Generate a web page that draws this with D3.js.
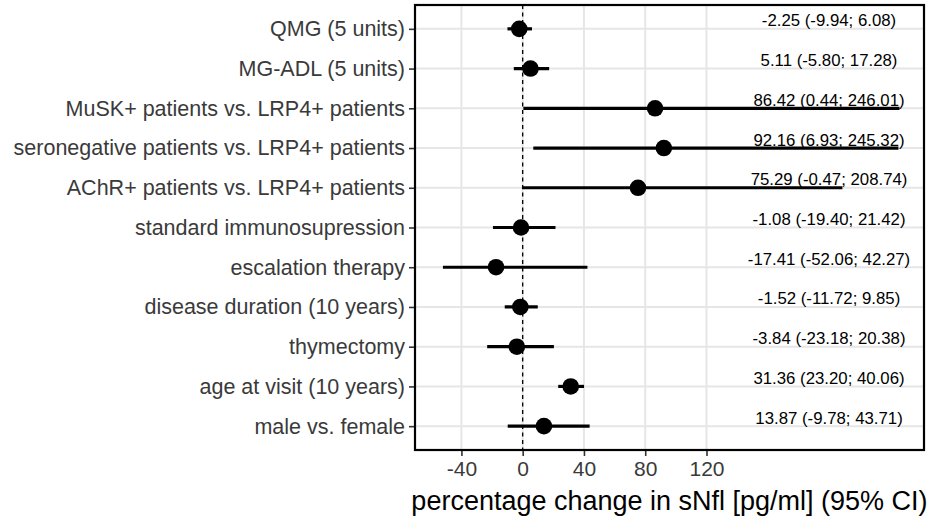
<!DOCTYPE html>
<html>
<head>
<meta charset="utf-8">
<script src="https://cdn.jsdelivr.net/npm/d3@7"></script>
<style>
  html, body { margin: 0; padding: 0; background: #fff; }
  svg { display: block; font-family: "Liberation Sans", Arial, sans-serif; }
</style>
</head>
<body>
<svg id="chart" width="935" height="522"></svg>
<script>
const labels = [
  "QMG (5 units)",
  "MG-ADL (5 units)",
  "MuSK+ patients vs. LRP4+ patients",
  "seronegative patients vs. LRP4+ patients",
  "AChR+ patients vs. LRP4+ patients",
  "standard immunosupression",
  "escalation therapy",
  "disease duration (10 years)",
  "thymectomy",
  "age at visit (10 years)",
  "male vs. female"
];
const estimate = [-2.25, 5.11, 86.42, 92.16, 75.29, -1.08, -17.41, -1.52, -3.84, 31.36, 13.87];
const lower    = [-9.94, -5.80, 0.44, 6.93, -0.47, -19.40, -52.06, -11.72, -23.18, 23.20, -9.78];
const upper    = [6.08, 17.28, 246.01, 245.32, 208.74, 21.42, 42.27, 9.85, 20.38, 40.06, 43.71];
const xTicks = [-40, 0, 40, 80, 120];
const xDomain = [-70.3, 262];
const annotationX = 200;
const xTitle = "percentage change in sNfl [pg/ml] (95% CI)";

const rows = labels.map((l, i) => ({ label: l, est: estimate[i], lo: lower[i], hi: upper[i] }));

const svg = d3.select("#chart");
const panel = { left: 415, right: 924, top: 5, bottom: 450 };

const x = d3.scaleLinear().domain(xDomain).range([panel.left, panel.right]);
const y = d3.scalePoint().domain(labels).range([panel.top, panel.bottom]).padding(0.6);

// grid
const grid = svg.append("g");
grid.selectAll("line.v").data(xTicks).join("line")
  .attr("x1", d => x(d)).attr("x2", d => x(d))
  .attr("y1", panel.top).attr("y2", panel.bottom)
  .attr("stroke", "#e6e6e6").attr("stroke-width", 2);
grid.selectAll("line.h").data(labels).join("line")
  .attr("x1", panel.left).attr("x2", panel.right)
  .attr("y1", d => y(d)).attr("y2", d => y(d))
  .attr("stroke", "#e6e6e6").attr("stroke-width", 2);

// zero reference line
svg.append("line")
  .attr("x1", x(0)).attr("x2", x(0))
  .attr("y1", panel.top).attr("y2", panel.bottom)
  .attr("stroke", "#000").attr("stroke-width", 1.3)
  .attr("stroke-dasharray", "4,3.5");

// error bars
svg.append("g").selectAll("line").data(rows).join("line")
  .attr("x1", d => x(d.lo)).attr("x2", d => x(d.hi))
  .attr("y1", d => y(d.label)).attr("y2", d => y(d.label))
  .attr("stroke", "#000").attr("stroke-width", 3.2);

// points
svg.append("g").selectAll("circle").data(rows).join("circle")
  .attr("cx", d => x(d.est)).attr("cy", d => y(d.label))
  .attr("r", 8.3).attr("fill", "#000");

// annotations (plain hyphen minus, as in the original)
const fmt = v => v.toFixed(2);
svg.append("g").selectAll("text").data(rows).join("text")
  .attr("x", x(annotationX)).attr("y", d => y(d.label) - 2.5)
  .attr("text-anchor", "middle")
  .attr("font-size", 16.8).attr("fill", "#000")
  .text(d => `${fmt(d.est)} (${fmt(d.lo)}; ${fmt(d.hi)})`);

// panel border
svg.append("rect")
  .attr("x", panel.left).attr("y", panel.top)
  .attr("width", panel.right - panel.left).attr("height", panel.bottom - panel.top)
  .attr("fill", "none").attr("stroke", "#000").attr("stroke-width", 2.2);

// axes
const xAxis = svg.append("g").attr("transform", `translate(0,${panel.bottom + 1})`)
  .call(d3.axisBottom(x).tickValues(xTicks).tickSize(5).tickPadding(5).tickFormat(d => String(d)));
xAxis.select(".domain").remove();
xAxis.selectAll(".tick line").attr("stroke", "#333").attr("stroke-width", 1.6);
xAxis.selectAll(".tick text").attr("font-size", 21).attr("fill", "#3a3a3a")
  .attr("font-family", "Liberation Sans, Arial, sans-serif");

const yAxis = svg.append("g").attr("transform", `translate(${panel.left - 1},0)`)
  .call(d3.axisLeft(y).tickSize(5).tickPadding(4));
yAxis.select(".domain").remove();
yAxis.selectAll(".tick line").attr("stroke", "#333").attr("stroke-width", 1.6);
yAxis.selectAll(".tick text").attr("font-size", 21.5).attr("fill", "#3a3a3a")
  .attr("font-family", "Liberation Sans, Arial, sans-serif");

// x title
svg.append("text")
  .attr("x", (panel.left + panel.right) / 2).attr("y", 510)
  .attr("text-anchor", "middle").attr("font-size", 27).attr("fill", "#000")
  .text(xTitle);
</script>
</body>
</html>
